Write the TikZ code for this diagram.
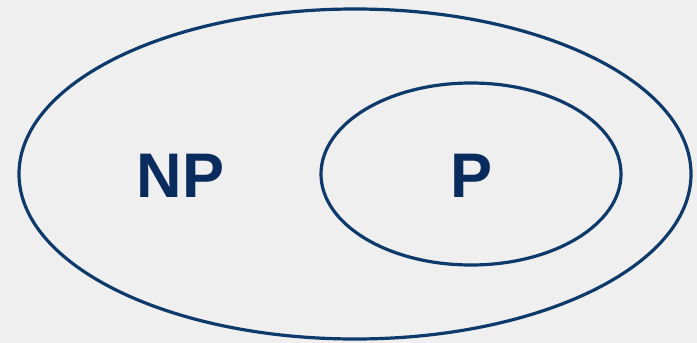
\documentclass[tikz,border=0pt]{standalone}
\usepackage{fontspec}
\setmainfont{Liberation Sans}
\usetikzlibrary{shapes.geometric}
\definecolor{bg}{HTML}{EFEFEF}
\definecolor{navy}{HTML}{0E3A6B}
\definecolor{txt}{HTML}{0A2B5E}
\begin{document}
\begin{tikzpicture}[x=1pt,y=-1pt,
  setline/.style={draw=navy,line width=3.2pt,ellipse,inner sep=0pt,outer sep=0pt},
  setlabel/.style={text=txt,font=\fontsize{63}{63}\selectfont\bfseries,inner sep=0pt,anchor=base}]
\fill[bg] (0,0) rectangle (697,343);
\useasboundingbox (0,0) rectangle (697,343);
\node[setline,minimum width=672pt,minimum height=330pt] (outer) at (355,174) {};
\node[setline,minimum width=300pt,minimum height=182pt] (inner) at (471,174) {};
\node[setlabel] (np) at (180.5,197) {NP};
\node[setlabel] (p) at (471.5,197) {P};
\end{tikzpicture}
\end{document}
